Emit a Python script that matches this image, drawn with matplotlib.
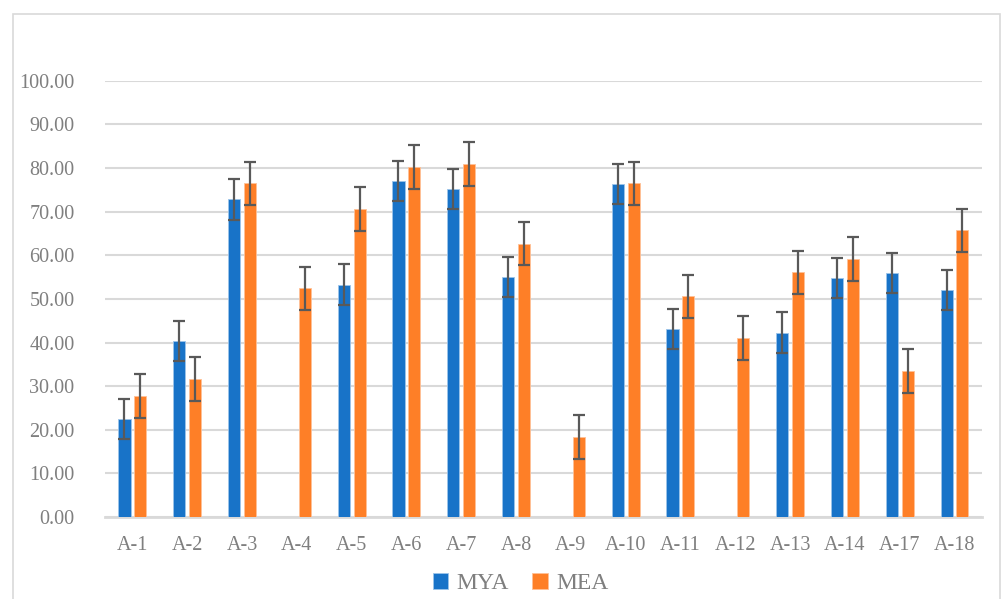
import numpy as np
import matplotlib
matplotlib.use("Agg")
import matplotlib.pyplot as plt
from matplotlib.patches import Rectangle

categories = ["A-1", "A-2", "A-3", "A-4", "A-5", "A-6", "A-7", "A-8", "A-9",
              "A-10", "A-11", "A-12", "A-13", "A-14", "A-17", "A-18"]
mya = [22.5, 40.3, 72.8, np.nan, 53.3, 77.0, 75.3, 55.0, np.nan,
       76.3, 43.2, np.nan, 42.3, 54.8, 55.9, 52.1]
mea = [27.8, 31.7, 76.5, 52.4, 70.6, 80.3, 81.0, 62.7, 18.3,
       76.5, 50.6, 41.1, 56.1, 59.1, 33.5, 65.7]
mya_err = 4.6
mea_err = 5.0
yticks = [0, 10, 20, 30, 40, 50, 60, 70, 80, 90, 100]

plt.rcParams['font.family'] = ['Liberation Serif', 'DejaVu Serif']

fig = plt.figure(figsize=(10.05, 5.99), dpi=100)
ax = fig.add_axes([0.1045, 0.1369, 0.8725, 0.7281])

x = np.arange(len(categories))
w = 0.22
off = 0.145
blue = '#1873C8'
orange = '#FE7F27'
ecol = '#595959'

mya_arr = np.array(mya, dtype=float)
mea_arr = np.array(mea, dtype=float)
ax.bar(x - off, np.nan_to_num(mya_arr), w, color=blue, label='MYA', zorder=3,
       edgecolor='#9cc4ea', linewidth=0.6)
ax.bar(x + off, mea_arr, w, color=orange, label='MEA', zorder=3,
       edgecolor='#ffc197', linewidth=0.6)
m = ~np.isnan(mya_arr)
ax.errorbar((x - off)[m], mya_arr[m], yerr=mya_err, fmt='none', ecolor=ecol,
            elinewidth=1.6, capsize=4.5, capthick=1.6, zorder=4)
ax.errorbar(x + off, mea_arr, yerr=mea_err, fmt='none', ecolor=ecol,
            elinewidth=1.6, capsize=4.5, capthick=1.6, zorder=4)

ax.set_xlim(-0.5, len(categories) - 0.5)
ax.set_ylim(0, 100)
ax.set_yticks(yticks)
ax.set_yticklabels([f"{v:.2f}" for v in yticks])
ax.set_xticks(x)
ax.set_xticklabels(categories)
ax.yaxis.grid(True, color='#d9d9d9', linewidth=1.5, zorder=0)
ax.set_axisbelow(True)
for s in ['top', 'right', 'left']:
    ax.spines[s].set_visible(False)
ax.spines['bottom'].set_color('#d9d9d9')
ax.spines['bottom'].set_linewidth(2)
ax.tick_params(axis='both', length=0, labelsize=14.5, labelcolor='#7f7f7f')
ax.tick_params(axis='y', pad=22)
ax.tick_params(axis='x', pad=14)

leg = fig.legend(loc='center', bbox_to_anchor=(0.518, 0.026), ncol=2, frameon=False,
                 fontsize=17, handlelength=0.65, handleheight=0.65, handletextpad=0.35,
                 columnspacing=1.0)
for t in leg.get_texts():
    t.set_color('#7f7f7f')

fig.patches.append(Rectangle((13/1005, -0.01), (1000-13)/1005, 1 - 14/599 + 0.01,
                             transform=fig.transFigure, fill=False,
                             edgecolor='#d9d9d9', linewidth=1.2))

fig.savefig('out.png', dpi=100)
